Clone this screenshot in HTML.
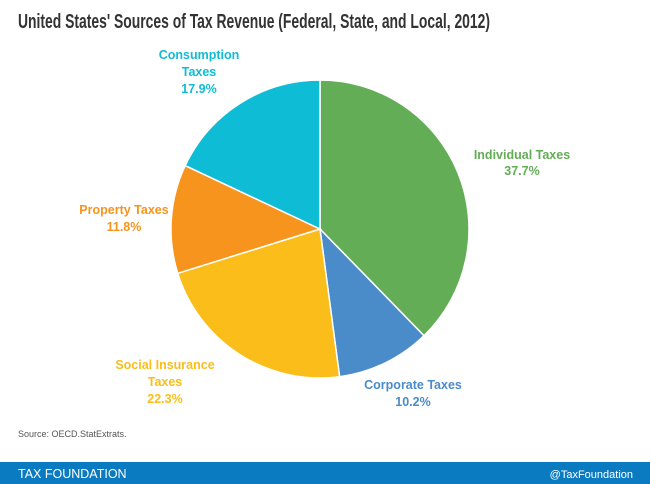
<!DOCTYPE html>
<html><head><meta charset="utf-8"><style>
body{margin:0;background:#fff;}
svg{display:block;font-family:"Liberation Sans",sans-serif;}
</style></head><body>
<svg width="650" height="484" viewBox="0 0 650 484">
<rect width="650" height="484" fill="#fff"/>
<text x="18" y="28" font-size="20" font-weight="bold" fill="#333" textLength="472" lengthAdjust="spacingAndGlyphs">United States' Sources of Tax Revenue (Federal, State, and Local, 2012)</text>
<g stroke="#fff" stroke-width="1.5">
<path d="M320,229 L320,80 A149,149 0 0 1 424,335.7 Z" fill="#62ad55"/>
<path d="M320,229 L424,335.7 A149,149 0 0 1 339.6,376.7 Z" fill="#4a8bc9"/>
<path d="M320,229 L339.6,376.7 A149,149 0 0 1 177.7,273.3 Z" fill="#fbbd1a"/>
<path d="M320,229 L177.7,273.3 A149,149 0 0 1 185.2,165.6 Z" fill="#f7941d"/>
<path d="M320,229 L185.2,165.6 A149,149 0 0 1 320,80 Z" fill="#0fbcd6"/>
</g>
<g font-size="12.5" font-weight="bold" text-anchor="middle">
<g fill="#0fbcd6"><text x="199" y="59">Consumption</text><text x="199" y="76">Taxes</text><text x="199" y="93">17.9%</text></g>
<g fill="#62ad55"><text x="522" y="159">Individual Taxes</text><text x="522" y="175">37.7%</text></g>
<g fill="#f7941d"><text x="124" y="214">Property Taxes</text><text x="124" y="231">11.8%</text></g>
<g fill="#fbbd1a"><text x="165" y="369">Social Insurance</text><text x="165" y="386">Taxes</text><text x="165" y="403">22.3%</text></g>
<g fill="#4a8bc9"><text x="413" y="389">Corporate Taxes</text><text x="413" y="406">10.2%</text></g>
</g>
<text x="18" y="437" font-size="9" fill="#555">Source: OECD.StatExtrats.</text>
<rect x="0" y="462" width="650" height="22" fill="#0a7bc1"/>
<text x="18" y="478" font-size="12.5" fill="#fff">TAX FOUNDATION</text>
<text x="633" y="478" font-size="11" fill="#fff" text-anchor="end">@TaxFoundation</text>
</svg>
</body></html>
